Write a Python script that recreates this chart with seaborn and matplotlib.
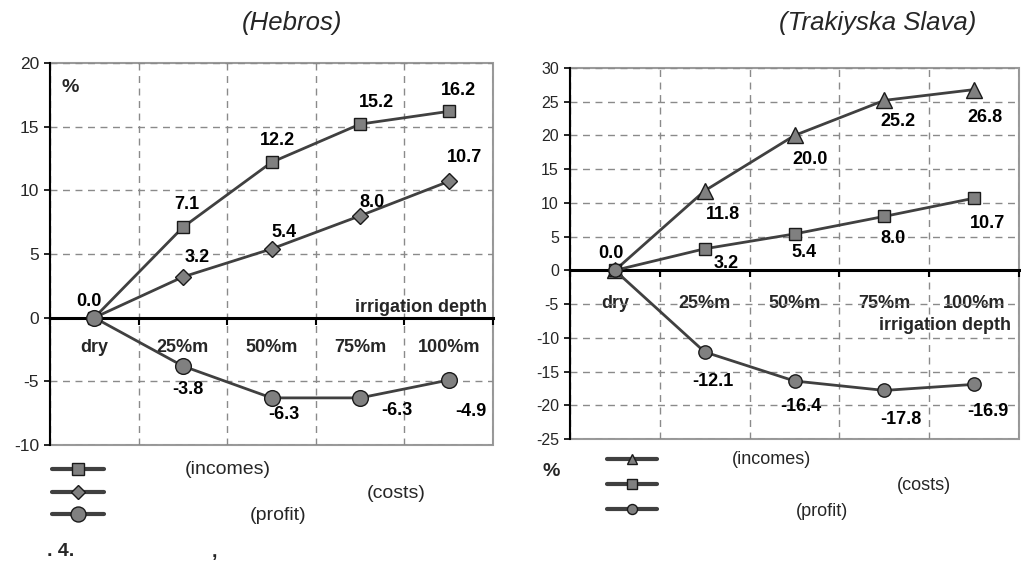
import numpy as np
import pandas as pd
import matplotlib
matplotlib.use("Agg")
import matplotlib.pyplot as plt
from matplotlib.lines import Line2D
import seaborn as sns

# ---------------- data ----------------
categories = ["dry", "25%m", "50%m", "75%m", "100%m"]

hebros_incomes = [0.0, 7.1, 12.2, 15.2, 16.2]
hebros_costs = [0.0, 3.2, 5.4, 8.0, 10.7]
hebros_profit = [0.0, -3.8, -6.3, -6.3, -4.9]

slava_incomes = [0.0, 11.8, 20.0, 25.2, 26.8]
slava_costs = [0.0, 3.2, 5.4, 8.0, 10.7]
slava_profit = [0.0, -12.1, -16.4, -17.8, -16.9]

legend_labels = ["(incomes)", "(costs)", "(profit)"]
titles = ["(Hebros)", "(Trakiyska Slava)"]

# ---------------- style ----------------
sns.set_style("white")
plt.rcParams["font.family"] = ["Liberation Sans", "DejaVu Sans"]

LINE = "#404040"
FILL = "#808080"
EDGE = "#1a1a1a"
GRID = "#8a8a8a"

W, H = 1021, 566
fig = plt.figure(figsize=(W / 100, H / 100), dpi=100)
ax1 = fig.add_axes([50 / W, 1 - 445 / H, 443 / W, 382 / H])
ax2 = fig.add_axes([570 / W, 1 - 439 / H, 449 / W, 371 / H])

pos = np.arange(len(categories))


def draw_series(ax, values, marker, ms, label_offsets):
    df = pd.DataFrame({"pos": pos, "value": values})
    sns.lineplot(data=df, x="pos", y="value", ax=ax, color=LINE, lw=2.0,
                 marker=marker, markersize=ms, markerfacecolor=FILL,
                 markeredgecolor=EDGE, markeredgewidth=1.0, zorder=5)
    for xi, v, (dx, dy) in zip(pos, values, label_offsets):
        if dx is None:
            continue
        ax.annotate(f"{v:.1f}", (xi, v), xytext=(dx, dy),
                    textcoords="offset pixels", ha="center", va="center",
                    fontsize=13, fontweight="bold", color="black", zorder=6)


def style_axes(ax, ylim, step, ytick_fs, xlab_pad):
    yt = np.arange(ylim[0], ylim[1] + 0.1, step)
    ax.set_xlim(-0.5, len(categories) - 0.5)
    ax.set_ylim(*ylim)
    ax.grid(which="minor", axis="x", color=GRID, ls=(0, (5, 4)), lw=1.0)
    ax.grid(which="major", axis="y", color=GRID, ls=(0, (5, 4)), lw=1.0)
    ax.grid(which="major", axis="x", visible=False)
    ax.set_axisbelow(True)
    ax.spines["bottom"].set_position(("data", 0))
    ax.spines["bottom"].set_color("black")
    ax.spines["bottom"].set_linewidth(2.2)
    ax.spines["bottom"].set_zorder(4)
    ax.spines["left"].set_color("black")
    ax.spines["left"].set_linewidth(1.5)
    ax.spines["top"].set_visible(False)
    ax.spines["right"].set_visible(False)
    ax.patch.set_edgecolor("#9a9a9a")
    ax.patch.set_linewidth(1.5)
    ax.set_xlabel("")
    ax.set_ylabel("")
    ax.tick_params(axis="x", which="major", length=0, pad=xlab_pad,
                   bottom=True)
    ax.tick_params(axis="x", which="minor", length=5, width=1.5,
                   color="black", direction="out", bottom=True)
    ax.tick_params(axis="y", which="major", length=4, width=1.2,
                   color="black", direction="out", left=True, pad=4)
    ax.set_xticks(np.arange(-0.5, len(categories), 1), minor=True)
    ax.set_xticks(pos)
    ax.set_xticklabels(categories, fontsize=13, fontweight="bold")
    ax.set_yticks(yt)
    ax.set_yticklabels([f"{int(t)}" for t in yt], fontsize=ytick_fs)


# ---------- left chart (Hebros) ----------
draw_series(ax1, hebros_incomes, "s", 9.1,
            [(-5, 16), (4, 23), (6, 22), (16, 22), (10, 21)])
draw_series(ax1, hebros_costs, "D", 8.5,
            [(None, None), (14, 19), (12, 16), (12, 13), (16, 24)])
draw_series(ax1, hebros_profit, "o", 11.3,
            [(None, None), (5, -23), (12, -17), (37, -13), (22, -31)])
style_axes(ax1, (-10, 20), 5, 12.5, 15.5)
ax1.text(0.986, 0.361, "irrigation depth", transform=ax1.transAxes,
         ha="right", va="center", fontsize=13, fontweight="bold")
ax1.text(0.045, 0.937, "%", transform=ax1.transAxes,
         ha="center", va="center", fontsize=14, fontweight="bold")

# ---------- right chart (Trakiyska Slava) ----------
draw_series(ax2, slava_incomes, "^", 12,
            [(-4, 17), (18, -24), (16, -24), (14, -21), (11, -28)])
draw_series(ax2, slava_costs, "s", 8.9,
            [(None, None), (21, -15), (9, -19), (9, -22), (13, -25)])
draw_series(ax2, slava_profit, "o", 9.6,
            [(None, None), (8, -30), (6, -26), (17, -29), (14, -27)])
style_axes(ax2, (-25, 30), 5, 11.5, 18)
ax2.text(0.982, 0.3046, "irrigation depth", transform=ax2.transAxes,
         ha="right", va="center", fontsize=13, fontweight="bold")

# ---------- titles ----------
fig.text(292 / W, 1 - 23 / H, titles[0], ha="center", va="center",
         fontsize=18.5, style="italic")
fig.text(878 / W, 1 - 23 / H, titles[1], ha="center", va="center",
         fontsize=18.5, style="italic")

# ---------- legends ----------
def make_handles(markers, sizes):
    return [Line2D([], [], color=LINE, lw=3, marker=m, markersize=s,
                   markerfacecolor=FILL, markeredgecolor=EDGE,
                   markeredgewidth=1.0) for m, s in zip(markers, sizes)]


leg1 = ax1.legend(make_handles(["s", "D", "o"], [9, 7.3, 10.8]), [" "] * 3,
                  loc="upper left", bbox_to_anchor=(52 / W, 1 - 463 / H),
                  bbox_transform=fig.transFigure, frameon=False, borderpad=0,
                  borderaxespad=0, fontsize=10, handlelength=52 / 13.9,
                  handletextpad=0, labelspacing=0.61)
leg2 = ax2.legend(make_handles(["^", "s", "o"], [7.7, 7.2, 7.2]), [" "] * 3,
                  loc="upper left", bbox_to_anchor=(607 / W, 1 - 453 / H),
                  bbox_transform=fig.transFigure, frameon=False, borderpad=0,
                  borderaxespad=0, fontsize=10, handlelength=50 / 13.9,
                  handletextpad=0, labelspacing=0.79)

left_label_pos = [(185, 469), (367, 494), (250, 515)]
right_label_pos = [(732, 459), (897, 486), (796, 511)]
for lab, (x, y) in zip(legend_labels, left_label_pos):
    fig.text(x / W, 1 - y / H, lab, ha="left", va="center", fontsize=14)
for lab, (x, y) in zip(legend_labels, right_label_pos):
    fig.text(x / W, 1 - y / H, lab, ha="left", va="center", fontsize=13)

fig.text(551 / W, 1 - 472 / H, "%", ha="center", va="center",
         fontsize=14, fontweight="bold")
fig.text(47 / W, 1 - 552 / H, ". 4.", ha="left", va="center",
         fontsize=14, fontweight="bold")
fig.text(212 / W, 1 - 552 / H, ",", ha="left", va="center",
         fontsize=14, fontweight="bold")

fig.savefig("out.png", dpi=100)
